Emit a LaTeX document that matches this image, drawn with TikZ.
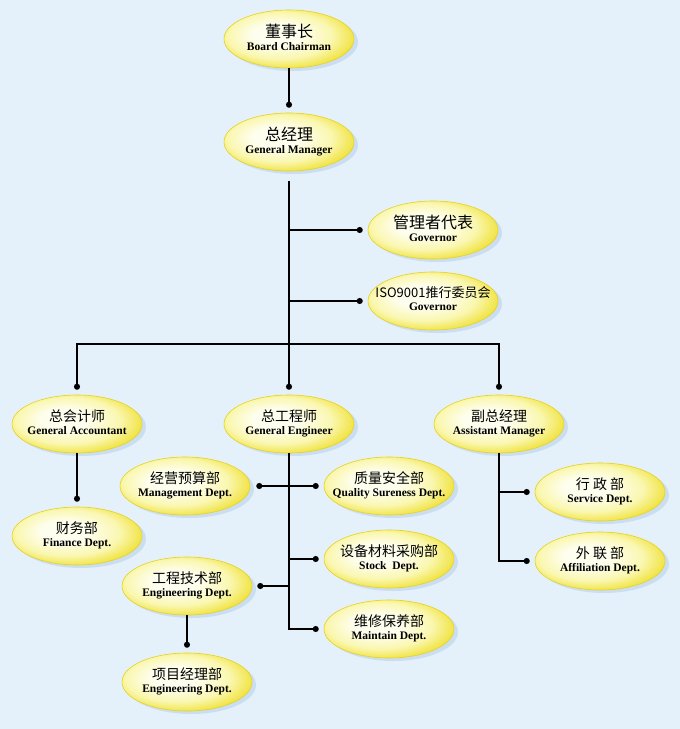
\documentclass[tikz,border=0pt]{standalone}
\usepackage{fontspec}
\setmainfont{Liberation Serif}
\newfontfamily\cjk{Noto Sans CJK SC}
\usetikzlibrary{shapes.geometric,arrows.meta,shadows}
\definecolor{paper}{RGB}{228,240,250}
\definecolor{eggwhite}{RGB}{254,254,238}
\definecolor{eggpale}{RGB}{250,247,176}
\definecolor{eggedge}{RGB}{238,222,40}
\definecolor{eggline}{RGB}{230,210,30}
\definecolor{shadowblue}{RGB}{180,206,234}
\pgfdeclareradialshading{egg}{\pgfpoint{-6bp}{5bp}}{color(0bp)=(eggwhite); color(9bp)=(eggwhite); color(20bp)=(eggpale); color(30bp)=(eggedge); color(50bp)=(eggedge)}
\newcommand\unitlabel[3]{\makebox[0pt]{\begin{tabular}{@{}c@{}}{\cjk\mdseries\fontsize{#1}{#1}\selectfont #2}\\[-1pt]#3\end{tabular}}}
\begin{document}
\begin{tikzpicture}[x = 1pt, y = -1pt,
  unit/.style = {ellipse, minimum width = 130pt, minimum height = 58pt, inner sep = 0pt,
    draw = eggline, line width = 0.6pt, shade, shading = egg,
    drop shadow = {shadow xshift = 4pt, shadow yshift = -3pt, fill = shadowblue, draw = none},
    font = \bfseries\fontsize{11.5}{14}\selectfont},
  line/.style = {line width = 1.6pt},
  link/.style = {line, -{Circle[length=6pt]}, shorten >= 5pt},
  twolink/.style = {line, {Circle[length=6pt]}-{Circle[length=6pt]}, shorten >= 5pt, shorten <= 6pt}]
  \fill [paper] (0,0) rectangle (680,729);
  % top
  \node [unit] (chair) at (289,39) {\unitlabel{16}{董事长}{Board Chairman}};
  \node [unit] (gm) at (289,142) {\unitlabel{16}{总经理}{General Manager}};
  \node [unit] (rep) at (433,230) {\unitlabel{16}{管理者代表}{Governor}};
  \node [unit] (iso) at (433,301) {\unitlabel{13}{ISO9001推行委员会}{Governor}};
  % second row
  \node [unit] (acct) at (77,424) {\unitlabel{14}{总会计师}{General Accountant}};
  \node [unit] (eng) at (289,424) {\unitlabel{14}{总工程师}{General Engineer}};
  \node [unit] (asst) at (499,424) {\unitlabel{14}{副总经理}{Assistant Manager}};
  % departments
  \node [unit] (fin) at (77,536) {\unitlabel{14}{财务部}{Finance Dept.}};
  \node [unit] (plan) at (185,486) {\unitlabel{14}{经营预算部}{Management Dept.}};
  \node [unit] (qual) at (389,486) {\unitlabel{14}{质量安全部}{Quality Sureness Dept.}};
  \node [unit] (stock) at (389,559) {\unitlabel{14}{设备材料采购部}{Stock\ \ Dept.}};
  \node [unit] (tech) at (187,586) {\unitlabel{14}{工程技术部}{Engineering Dept.}};
  \node [unit] (maint) at (389,629) {\unitlabel{14}{维修保养部}{Maintain Dept.}};
  \node [unit] (proj) at (187,682) {\unitlabel{14}{项目经理部}{Engineering Dept.}};
  \node [unit] (serv) at (600,492) {\unitlabel{14}{行 政 部}{Service Dept.}};
  \node [unit] (affil) at (600,561) {\unitlabel{14}{外 联 部}{Affiliation Dept.}};
  % connectors
  \coordinate (hub) at (289,344);
  \draw [link] (chair) -- (gm);
  \draw [line] ([yshift=-10pt]gm.south) -- (hub);
  \draw [link] (gm |- rep) -- (rep);
  \draw [link] (gm |- iso) -- (iso);
  \draw [link] (hub) -| (acct);
  \draw [link] (hub) -- (eng);
  \draw [link] (hub) -| (asst);
  \draw [link] (acct) -- (fin);
  \draw [twolink] (plan) -- (qual);
  \draw [link] (eng) |- (maint);
  \draw [link] (eng |- stock) -- (stock);
  \draw [link] (eng |- tech) -- (tech);
  \draw [link] (tech) -- (proj);
  \draw [link] (asst) |- (affil);
  \draw [link] (asst |- serv) -- (serv);
\end{tikzpicture}
\end{document}
